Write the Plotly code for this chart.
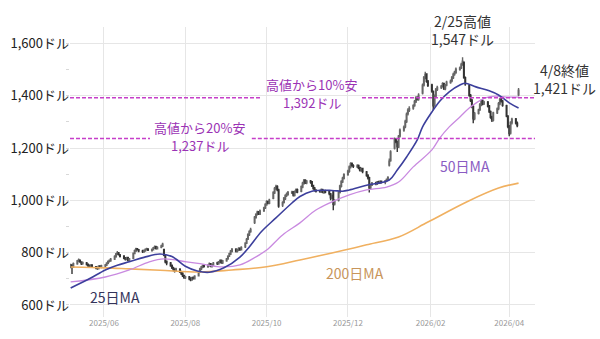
import pandas as pd
import plotly.graph_objects as go

# ---- daily prices (USD), trading days 2025-05-07 .. 2026-04-08 ----
dates = pd.bdate_range("2025-05-07", "2026-04-08")

open_ = [
    746, 753, 744,
    757, 767, 771, 764, 758,
    761, 756, 751, 747, 753,
    746, 743, 739, 749, 744,
    749, 753, 759, 767, 769,
    776, 785, 796, 799, 791,
    787, 779, 774, 781, 769,
    778, 797, 807, 814, 811,
    807, 803, 807, 811, 814,
    809, 811, 817, 823, 815,
    821, 825, 812, 788, 766,
    761, 751, 743, 736, 731,
    737, 727, 721, 713, 704,
    707, 701, 696, 705, 700,
    712, 727, 737, 744, 751,
    746, 751, 758, 747, 753,
    761, 757, 763, 771, 761,
    769, 777, 787, 795, 805,
    813, 805, 810, 817, 811,
    822, 837, 852, 868, 881,
    915, 935, 947, 956, 948,
    961, 972, 983, 996, 989,
    1008, 1029, 1045, 1053, 1040,
    982, 993, 1006, 1019, 1023,
    1029, 1032, 1019, 1033, 1041,
    1035, 1051, 1065, 1077, 1067,
    1074, 1071, 1057, 1047, 1039,
    1037, 1033, 1041, 1030, 1037,
    1033, 1025, 1009, 1032, 986,
    1000, 1031, 1054, 1071, 1084,
    1099, 1111, 1127, 1141, 1133,
    1129, 1133, 1125, 1114, 1122,
    1109, 1096, 1087, 1047, 1059,
    1067, 1063, 1071, 1067, 1073,
    1069, 1075, 1079, 1135, 1152,
    1200, 1233, 1224, 1204, 1246,
    1269, 1281, 1301, 1331, 1344,
    1353, 1363, 1377, 1393, 1387,
    1410, 1441, 1469, 1483, 1456,
    1441, 1417, 1363, 1399, 1424,
    1431, 1437, 1447, 1427, 1441,
    1451, 1457, 1469, 1483, 1489,
    1501, 1507, 1521, 1528, 1469,
    1440, 1401, 1383, 1359, 1313,
    1333, 1347, 1365, 1381, 1369,
    1375, 1361, 1339, 1319, 1307,
    1335, 1351, 1369, 1387, 1379,
    1362, 1321, 1283, 1257, 1297,
    1311, 1295, 1404,
]

high = [
    758, 756, 762,
    772, 778, 774, 767, 766,
    764, 759, 755, 756, 756,
    749, 747, 752, 752, 754,
    757, 763, 770, 774, 780,
    790, 799, 806, 803, 795,
    790, 783, 784, 784, 780,
    801, 812, 819, 818, 814,
    811, 812, 816, 819, 817,
    816, 822, 827, 826, 825,
    830, 838, 814, 792, 770,
    764, 755, 746, 740, 742,
    740, 731, 725, 716, 712,
    711, 706, 708, 709, 714,
    730, 742, 749, 755, 755,
    756, 762, 760, 758, 764,
    765, 768, 774, 774, 772,
    780, 790, 800, 810, 818,
    817, 815, 821, 820, 825,
    840, 856, 874, 886, 895,
    940, 951, 960, 959, 965,
    976, 989, 1000, 999, 1006,
    1035, 1051, 1060, 1058, 1044,
    997, 1013, 1023, 1030, 1036,
    1037, 1036, 1038, 1045, 1045,
    1057, 1071, 1082, 1081, 1078,
    1078, 1074, 1060, 1051, 1043,
    1041, 1045, 1044, 1040, 1041,
    1037, 1028, 1022, 1038, 1004,
    1034, 1060, 1077, 1090, 1104,
    1117, 1133, 1146, 1145, 1138,
    1138, 1137, 1129, 1126, 1125,
    1112, 1100, 1090, 1064, 1070,
    1071, 1074, 1075, 1076, 1076,
    1078, 1084, 1092, 1160, 1192,
    1240, 1238, 1228, 1250, 1275,
    1286, 1308, 1336, 1352, 1360,
    1368, 1384, 1398, 1398, 1410,
    1447, 1476, 1492, 1486, 1460,
    1446, 1420, 1405, 1430, 1438,
    1441, 1452, 1450, 1445, 1457,
    1462, 1476, 1488, 1496, 1508,
    1512, 1526, 1547, 1531, 1474,
    1444, 1407, 1388, 1364, 1338,
    1350, 1372, 1386, 1386, 1381,
    1380, 1365, 1344, 1324, 1339,
    1355, 1376, 1392, 1394, 1384,
    1366, 1326, 1288, 1303, 1316,
    1315, 1302, 1430,
]

low = [
    740, 718, 741,
    754, 763, 761, 753, 754,
    751, 746, 743, 744, 741,
    737, 735, 736, 741, 740,
    744, 749, 756, 762, 765,
    772, 781, 791, 789, 782,
    775, 770, 771, 766, 765,
    776, 794, 803, 808, 802,
    799, 800, 804, 808, 806,
    804, 808, 814, 812, 812,
    817, 822, 786, 760, 752,
    746, 738, 729, 724, 727,
    722, 715, 707, 700, 699,
    695, 691, 693, 697, 697,
    709, 722, 733, 740, 743,
    742, 748, 744, 743, 750,
    753, 754, 760, 758, 757,
    765, 773, 783, 791, 801,
    801, 801, 806, 807, 808,
    818, 833, 848, 864, 876,
    910, 930, 942, 944, 944,
    956, 967, 979, 985, 985,
    1004, 1024, 1040, 1035, 972,
    975, 988, 1001, 1013, 1018,
    1024, 1015, 1015, 1028, 1027,
    1031, 1046, 1060, 1063, 1062,
    1064, 1051, 1041, 1034, 1030,
    1029, 1029, 1027, 1025, 1027,
    1020, 1000, 1004, 962, 980,
    996, 1026, 1049, 1066, 1080,
    1094, 1106, 1122, 1129, 1124,
    1124, 1119, 1110, 1109, 1104,
    1090, 1080, 1030, 1043, 1055,
    1058, 1059, 1063, 1063, 1065,
    1062, 1071, 1075, 1130, 1148,
    1195, 1218, 1185, 1200, 1240,
    1262, 1276, 1296, 1325, 1338,
    1347, 1358, 1372, 1382, 1381,
    1405, 1435, 1463, 1450, 1434,
    1412, 1345, 1358, 1394, 1418,
    1426, 1432, 1422, 1421, 1436,
    1446, 1452, 1464, 1477, 1484,
    1496, 1502, 1515, 1465, 1438,
    1396, 1376, 1352, 1295, 1306,
    1328, 1342, 1360, 1364, 1365,
    1355, 1334, 1312, 1300, 1302,
    1330, 1345, 1364, 1374, 1358,
    1318, 1276, 1245, 1252, 1290,
    1290, 1280, 1398,
]

close = [
    752, 745, 758,
    768, 772, 765, 758, 762,
    755, 750, 748, 752, 745,
    742, 740, 748, 745, 750,
    752, 760, 766, 770, 775,
    786, 795, 800, 792, 786,
    778, 775, 780, 770, 776,
    798, 808, 815, 812, 806,
    804, 808, 812, 815, 810,
    812, 818, 822, 816, 820,
    826, 832, 790, 765, 760,
    750, 742, 735, 730, 738,
    726, 720, 712, 705, 708,
    700, 697, 704, 701, 710,
    726, 738, 745, 750, 747,
    752, 757, 748, 754, 760,
    758, 764, 770, 762, 768,
    776, 786, 796, 806, 812,
    806, 811, 816, 812, 820,
    836, 851, 869, 880, 889,
    936, 946, 955, 949, 960,
    971, 984, 995, 990, 1001,
    1030, 1046, 1052, 1040, 978,
    992, 1008, 1018, 1024, 1030,
    1031, 1020, 1034, 1040, 1032,
    1052, 1066, 1076, 1068, 1073,
    1070, 1056, 1046, 1040, 1036,
    1034, 1040, 1031, 1036, 1032,
    1026, 1010, 1018, 985, 998,
    1030, 1055, 1072, 1085, 1098,
    1112, 1128, 1140, 1134, 1130,
    1132, 1124, 1115, 1121, 1110,
    1095, 1086, 1048, 1060, 1066,
    1064, 1070, 1068, 1072, 1070,
    1074, 1080, 1088, 1150, 1185,
    1232, 1225, 1205, 1245, 1268,
    1280, 1302, 1330, 1345, 1352,
    1362, 1378, 1392, 1388, 1402,
    1440, 1470, 1482, 1455, 1440,
    1418, 1362, 1400, 1425, 1432,
    1436, 1446, 1428, 1440, 1452,
    1456, 1470, 1482, 1490, 1502,
    1506, 1520, 1532, 1470, 1446,
    1402, 1382, 1360, 1312, 1332,
    1346, 1366, 1380, 1370, 1376,
    1360, 1340, 1318, 1308, 1334,
    1350, 1370, 1386, 1380, 1364,
    1322, 1282, 1256, 1298, 1310,
    1296, 1286, 1421,
]

# ---- moving averages ----
ma25_dates = ["2025-05-07", "2025-05-21", "2025-06-02", "2025-06-11", "2025-06-20",
              "2025-07-01", "2025-07-13", "2025-07-22", "2025-08-01", "2025-08-10",
              "2025-08-19", "2025-08-30", "2025-09-11", "2025-09-18", "2025-09-27",
              "2025-10-08", "2025-10-20", "2025-10-26", "2025-11-04", "2025-11-19",
              "2025-11-27", "2025-12-02", "2025-12-15", "2026-01-01", "2026-01-07",
              "2026-01-14", "2026-01-22", "2026-01-26", "2026-02-02", "2026-02-08",
              "2026-02-15", "2026-02-23", "2026-02-27", "2026-03-07", "2026-03-17",
              "2026-03-24", "2026-04-01", "2026-04-08"]
ma25 = [665, 700, 734, 752, 765,
        782, 795, 785, 748, 730,
        725, 742, 783, 822, 880,
        933, 990, 1015, 1035, 1038,
        1035, 1040, 1058, 1078, 1116,
        1166, 1231, 1281, 1338, 1380,
        1415, 1441, 1448, 1434, 1419,
        1403, 1373, 1353]

ma50_dates = ["2025-05-07", "2025-06-02", "2025-06-20", "2025-07-05", "2025-07-16",
              "2025-08-02", "2025-08-12", "2025-08-27", "2025-09-11", "2025-09-23",
              "2025-10-01", "2025-10-13", "2025-10-26", "2025-11-07", "2025-11-19",
              "2025-12-02", "2025-12-15", "2025-12-30", "2026-01-08", "2026-01-19",
              "2026-02-02", "2026-02-08", "2026-02-15", "2026-02-23", "2026-03-02",
              "2026-03-07", "2026-03-14", "2026-03-22", "2026-03-30", "2026-04-08"]
ma50 = [688, 707, 734, 765, 776,
        765, 758, 746, 753, 784,
        810, 868, 914, 963, 994,
        1021, 1040, 1051, 1070, 1128,
        1193, 1239, 1281, 1319, 1353,
        1372, 1392, 1399, 1395, 1395]

ma200_dates = ["2025-05-07", "2025-06-02", "2025-06-20", "2025-07-13", "2025-08-12",
               "2025-09-05", "2025-10-01", "2025-10-26", "2025-11-19", "2025-12-02",
               "2025-12-15", "2026-01-08", "2026-01-30", "2026-02-28", "2026-03-24",
               "2026-04-08"]
ma200 = [745, 742, 738, 733, 726,
         734, 746, 772, 799, 814,
         830, 860, 917, 994, 1047,
         1066]

# ---- axis ticks ----
y_tickvals = [600, 800, 1000, 1200, 1400, 1600]
y_ticktext = ["600ドル", "800ドル", "1,000ドル", "1,200ドル", "1,400ドル", "1,600ドル"]

# ---- reference levels ----
peak_date, peak_value = "2026-02-25", 1547
last_date, last_value = "2026-04-08", 1421
level_10, level_20 = 1392, 1237

FONT = "Noto Sans CJK JP"
LEVEL_COLOR = "#c63fc9"
LEVEL_TEXT = "#9b33b5"

fig = go.Figure()

fig.add_trace(go.Candlestick(
    x=dates, open=open_, high=high, low=low, close=close,
    increasing=dict(line=dict(color="#666666", width=1.4), fillcolor="#ffffff"),
    decreasing=dict(line=dict(color="#333333", width=1.4), fillcolor="#333333"),
    whiskerwidth=0, showlegend=False, hoverinfo="skip",
))

fig.add_trace(go.Scatter(x=ma200_dates, y=ma200, mode="lines",
                         line=dict(color="#f0b060", width=1.6, shape="spline"),
                         showlegend=False, hoverinfo="skip"))
fig.add_trace(go.Scatter(x=ma50_dates, y=ma50, mode="lines",
                         line=dict(color="#c98ae0", width=1.3, shape="spline"),
                         showlegend=False, hoverinfo="skip"))
fig.add_trace(go.Scatter(x=ma25_dates, y=ma25, mode="lines",
                         line=dict(color="#3c3f9c", width=1.6, shape="spline"),
                         showlegend=False, hoverinfo="skip"))

# dashed level lines, broken where their labels sit (paper x fractions)
level_segments = [
    (level_10, [(0.0, 0.409), (0.628, 1.0)]),
    (level_20, [(0.0, 0.172), (0.391, 1.0)]),
]
for lvl, segs in level_segments:
    for x0, x1 in segs:
        fig.add_shape(type="line", xref="paper", x0=x0, x1=x1, yref="y", y0=lvl, y1=lvl,
                      line=dict(color=LEVEL_COLOR, width=1.5, dash="4px,2px"), layer="above")

# white patches behind the level labels so the grid does not show through
for lvl, (x0, x1) in ((level_10, (0.409, 0.628)), (level_20, (0.172, 0.391))):
    fig.add_shape(type="rect", xref="paper", x0=x0, x1=x1, yref="y",
                  y0=lvl - 40, y1=lvl + 48, line=dict(width=0),
                  fillcolor="#ffffff", layer="below")

level_font = dict(family=FONT, size=13, color=LEVEL_TEXT)
note_font = dict(family=FONT, size=14, color="#333333")
ann = [
    # level labels, one annotation per line
    dict(x="2025-11-04", y=level_10, yshift=13, text="高値から10%安", font=level_font),
    dict(x="2025-11-04", y=level_10, yshift=-5, text="1,392ドル", font=level_font),
    dict(x="2025-08-12", y=level_20, yshift=11, text="高値から20%安", font=level_font),
    dict(x="2025-08-12", y=level_20, yshift=-7, text="1,237ドル", font=level_font),
    dict(x=peak_date, y=peak_value, yshift=27, text="2/25高値<br>1,547ドル", font=note_font),
    dict(x=last_date, y=last_value, xshift=46, yshift=11, text="4/8終値<br>1,421ドル",
         font=note_font),
    dict(x="2025-06-09", y=631, text="25日MA",
         font=dict(family=FONT, size=14, color="#34345a")),
    dict(x="2026-02-27", y=1132, text="50日MA",
         font=dict(family=FONT, size=14, color="#8a5cc2")),
    dict(x="2025-12-06", y=722, text="200日MA",
         font=dict(family=FONT, size=14, color="#c8955a")),
]
for a in ann:
    fig.add_annotation(xref="x", yref="y", showarrow=False, align="center", **a)

fig.update_layout(
    width=600, height=339,
    margin=dict(l=70, r=65, t=27, b=22),
    paper_bgcolor="#ffffff", plot_bgcolor="#ffffff",
    font=dict(family=FONT),
    xaxis=dict(
        range=["2025-05-06 12:00", "2026-04-20 08:00"],
        rangeslider=dict(visible=False),
        tick0="2025-06-01", dtick="M2", tickformat="%Y/%m",
        showgrid=True, gridcolor="#e6e6e6", gridwidth=1,
        zeroline=False, showline=False, ticks="",
        tickfont=dict(family=FONT, size=8, color="#999999"),
    ),
    yaxis=dict(
        range=[554, 1663],
        tickmode="array", tickvals=y_tickvals, ticktext=y_ticktext,
        showgrid=True, gridcolor="#e6e6e6", gridwidth=1,
        zeroline=False, showline=False, ticks="",
        minor=dict(dtick=100, tick0=0, ticks="outside", ticklen=3,
                   tickcolor="#d8d8d8", showgrid=False),
        tickfont=dict(family=FONT, size=13, color="#222222"),
    ),
)

fig.write_html("out.html")
